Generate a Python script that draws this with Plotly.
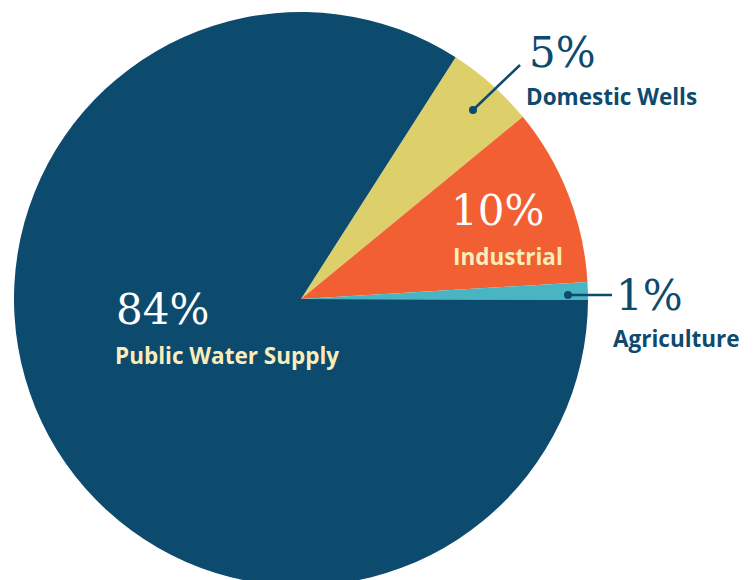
import plotly.graph_objects as go

# ---- data ----
categories = ["Domestic Wells", "Industrial", "Agriculture", "Public Water Supply"]
values = [5, 10, 1, 84]
pct_labels = ["5%", "10%", "1%", "84%"]
colors = ["#ddd06a", "#f15f33", "#4ab5c2", "#0c4a6e"]

W, H = 753, 600
NAVY = "#0c4a6e"
CREAM = "#fbedb9"

def px(x):
    return x / W

def py(y):
    return 1 - y / H

cx, cy, r = 301, 299, 287

fig = go.Figure(go.Pie(
    labels=categories,
    values=values,
    sort=False,
    direction="clockwise",
    rotation=32.6,
    marker=dict(colors=colors, line=dict(width=0)),
    textinfo="none",
    hoverinfo="label+percent",
    showlegend=False,
    domain=dict(x=[px(cx - r), px(cx + r)], y=[py(cy + r), py(cy - r)]),
))

SERIF = "DejaVu Serif, Liberation Serif, serif"
SANS = "Open Sans, Lato, sans-serif"

def pct_ann(text, x, y, color):
    return dict(text=text, x=px(x), y=py(y), xref="paper", yref="paper",
                xanchor="left", yanchor="middle", showarrow=False,
                font=dict(family=SERIF, size=42, color=color))

def lab_ann(text, x, y, color):
    return dict(text="<b>" + text + "</b>", x=px(x), y=py(y), xref="paper", yref="paper",
                xanchor="left", yanchor="middle", showarrow=False,
                font=dict(family=SANS, size=22.5, color=color))

anns = [
    pct_ann(pct_labels[3], 114, 309, "white"),
    lab_ann(categories[3], 113, 355, CREAM),
    pct_ann(pct_labels[1], 449, 210, "white"),
    lab_ann(categories[1], 451, 256, CREAM),
    pct_ann(pct_labels[0], 527, 52, NAVY),
    lab_ann(categories[0], 524, 96, NAVY),
    pct_ann(pct_labels[2], 614, 295, NAVY),
    lab_ann(categories[2], 611, 339, NAVY),
]

def dot(x, y, rad=4):
    return dict(type="circle", xref="paper", yref="paper",
                x0=px(x - rad), x1=px(x + rad), y0=py(y + rad), y1=py(y - rad),
                fillcolor=NAVY, line=dict(width=0))

def seg(x0, y0, x1, y1):
    return dict(type="line", xref="paper", yref="paper",
                x0=px(x0), y0=py(y0), x1=px(x1), y1=py(y1),
                line=dict(color=NAVY, width=2.5))

shapes = [
    seg(473, 110, 520, 65), dot(473, 110),
    seg(568, 295, 612, 295), dot(568, 295),
]

fig.update_layout(
    width=W, height=H,
    margin=dict(l=0, r=0, t=0, b=0),
    paper_bgcolor="white", plot_bgcolor="white",
    annotations=anns, shapes=shapes,
)

fig.write_html("out.html",
               post_script="document.documentElement.style.overflow='hidden';document.body.style.overflow='hidden';")
